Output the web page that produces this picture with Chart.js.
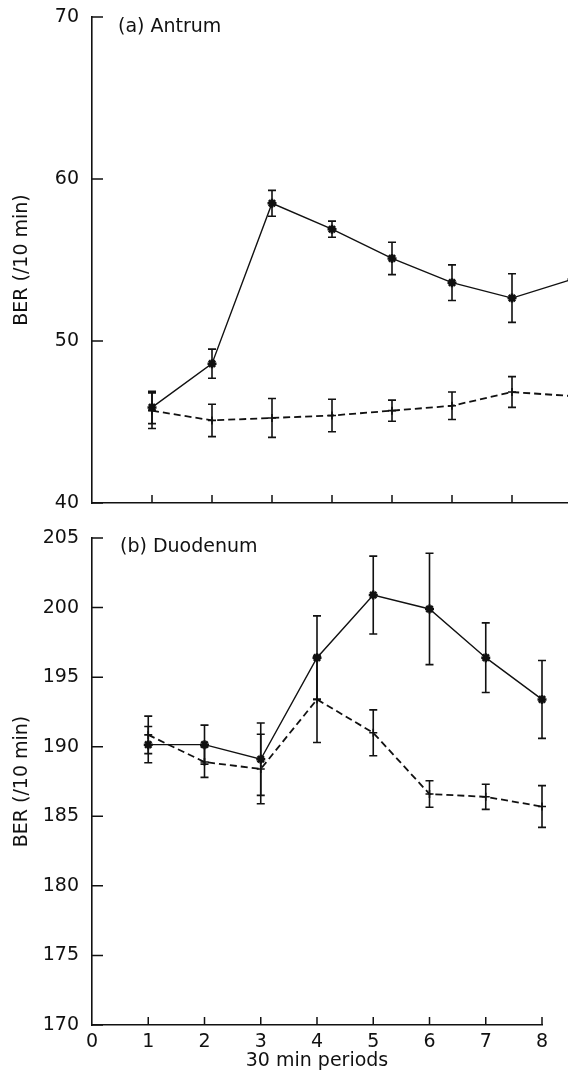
<!DOCTYPE html>
<html>
<head>
<meta charset="utf-8">
<script src="https://cdn.jsdelivr.net/npm/chart.js@4.4.1/dist/chart.umd.min.js"></script>
<style>
  html, body { margin: 0; padding: 0; background: #fff; overflow: hidden; width: 568px; height: 1081px; }
  .wrap { position: absolute; left: 0; }
  .panel-label { position: absolute; font-family: "DejaVu Sans", sans-serif; font-size: 19px; line-height: 22px; color: #111; white-space: nowrap; }
</style>
</head>
<body>
<div class="wrap" style="top:0; width:600px; height:520px;"><canvas id="antrum" width="600" height="520"></canvas></div>
<div class="wrap" style="top:520px; width:568px; height:561px;"><canvas id="duodenum" width="568" height="561"></canvas></div>
<div class="panel-label" style="left:118px; top:14px;">(a) Antrum</div>
<div class="panel-label" style="left:120px; top:534px;">(b) Duodenum</div>
<script>
// ---- Data ----
const periods = [1, 2, 3, 4, 5, 6, 7, 8];

const antrumSolid      = [45.9, 48.6, 58.5, 56.9, 55.1, 53.6, 52.65, 53.8];
const antrumSolidErr   = [1.0, 0.9, 0.8, 0.5, 1.0, 1.1, 1.5, 1.35];
const antrumDashed     = [45.7, 45.1, 45.25, 45.4, 45.7, 46.0, 46.85, 46.6];
const antrumDashedErr  = [1.1, 1.0, 1.2, 1.0, 0.65, 0.85, 0.95, 0.6];

const duodSolid        = [190.15, 190.15, 189.1, 196.4, 200.9, 199.9, 196.4, 193.4];
const duodSolidErr     = [1.3, 1.4, 2.6, 3.0, 2.8, 4.0, 2.5, 2.8];
const duodDashed       = [190.85, 188.9, 188.4, 193.4, 191.0, 186.6, 186.4, 185.7];
const duodDashedErr    = [1.35, 1.1, 2.5, 3.1, 1.65, 0.95, 0.9, 1.5];

const antrumYTicks = [40, 50, 60, 70];
const duodYTicks   = [170, 175, 180, 185, 190, 195, 200, 205];
const xTickValues  = [0, 1, 2, 3, 4, 5, 6, 7, 8];

const yTitle = 'BER (/10 min)';
const xTitle = '30 min periods';

// ---- helpers ----
const INK = '#111';
const FONT = { family: '"DejaVu Sans", sans-serif', size: 19 };

function pts(values) { return periods.map((p, i) => ({ x: p, y: values[i] })); }

function errorBarPlugin(errs) {
  return {
    id: 'errorBars',
    afterDatasetsDraw(chart) {
      const ctx = chart.ctx;
      const ys = chart.scales.y, xs = chart.scales.x;
      chart.data.datasets.forEach((ds, i) => {
        const e = errs[i];
        ctx.save();
        ctx.strokeStyle = INK;
        ctx.lineWidth = 1.6;
        ds.data.forEach((d, j) => {
          const px = xs.getPixelForValue(d.x);
          const t = ys.getPixelForValue(d.y + e[j]);
          const b = ys.getPixelForValue(d.y - e[j]);
          ctx.beginPath();
          ctx.moveTo(px, t); ctx.lineTo(px, b);
          ctx.moveTo(px - 4, t); ctx.lineTo(px + 4, t);
          ctx.moveTo(px - 4, b); ctx.lineTo(px + 4, b);
          ctx.stroke();
        });
        ctx.restore();
      });
    }
  };
}

function innerTickPlugin(xTicks) {
  return {
    id: 'innerTicks',
    afterDraw(chart) {
      const { ctx, chartArea, scales } = chart;
      ctx.save();
      ctx.strokeStyle = INK;
      ctx.lineWidth = 1.5;
      ctx.beginPath();
      scales.y.ticks.forEach(t => {
        const py = scales.y.getPixelForValue(t.value);
        ctx.moveTo(chartArea.left, py); ctx.lineTo(chartArea.left + 11, py);
      });
      xTicks.forEach(v => {
        const px = scales.x.getPixelForValue(v);
        ctx.moveTo(px, chartArea.bottom); ctx.lineTo(px, chartArea.bottom - 8);
      });
      ctx.stroke();
      ctx.restore();
    }
  };
}

function datasets(solid, dashed) {
  return [
    {
      data: pts(solid), borderColor: INK, backgroundColor: INK, borderWidth: 1.4,
      pointStyle: 'star', pointRadius: 4.5, pointBorderWidth: 2.5, tension: 0, clip: false
    },
    {
      data: pts(dashed), borderColor: INK, backgroundColor: INK, borderWidth: 1.8,
      borderDash: [7, 4], pointStyle: 'cross', pointRadius: 4, pointBorderWidth: 1.6, tension: 0, clip: false
    }
  ];
}

function yScale(ticksArr, axisWidth) {
  return {
    type: 'linear',
    min: ticksArr[0], max: ticksArr[ticksArr.length - 1],
    afterBuildTicks(scale) { scale.ticks = ticksArr.map(v => ({ value: v })); },
    afterFit(scale) {
      scale.width = axisWidth;
      scale.paddingTop = 0;
      scale.paddingBottom = 0;
    },
    grid: { display: false, drawTicks: false },
    border: { display: true, color: INK, width: 1.6 },
    ticks: { color: INK, font: FONT, padding: 13 },
    title: { display: true, text: yTitle, color: INK, font: FONT, padding: { top: 11, bottom: 0 } }
  };
}

const common = {
  responsive: false,
  animation: false,
  events: [],
  plugins: { legend: { display: false }, tooltip: { enabled: false } }
};

// ---- (a) Antrum ----
new Chart(document.getElementById('antrum'), {
  type: 'line',
  data: { datasets: datasets(antrumSolid, antrumDashed) },
  options: Object.assign({}, common, {
    layout: { autoPadding: false, padding: { top: 17, right: 28, left: 0, bottom: 0 } },
    scales: {
      x: {
        type: 'linear', min: 0, max: 8,
        afterFit(scale) { scale.height = 17; },
        grid: { display: false, drawTicks: false },
        border: { display: true, color: INK, width: 1.6 },
        ticks: { display: false }
      },
      y: yScale(antrumYTicks, 92)
    }
  }),
  plugins: [errorBarPlugin([antrumSolidErr, antrumDashedErr]), innerTickPlugin([1, 2, 3, 4, 5, 6, 7, 8])]
});

// ---- (b) Duodenum ----
new Chart(document.getElementById('duodenum'), {
  type: 'line',
  data: { datasets: datasets(duodSolid, duodDashed) },
  options: Object.assign({}, common, {
    layout: { autoPadding: false, padding: { top: 18, right: 26, left: 0, bottom: 0 } },
    scales: {
      x: {
        type: 'linear', min: 0, max: 8,
        afterBuildTicks(scale) { scale.ticks = xTickValues.map(v => ({ value: v })); },
        afterFit(scale) { scale.height = 56; },
        grid: { display: false, drawTicks: false },
        border: { display: true, color: INK, width: 1.6 },
        ticks: { color: INK, font: FONT, padding: 6, maxRotation: 0 },
        title: { display: true, text: xTitle, color: INK, font: FONT, padding: { top: 0, bottom: 9 } }
      },
      y: yScale(duodYTicks, 92)
    }
  }),
  plugins: [errorBarPlugin([duodSolidErr, duodDashedErr]), innerTickPlugin([1, 2, 3, 4, 5, 6, 7, 8])]
});
</script>
</body>
</html>
